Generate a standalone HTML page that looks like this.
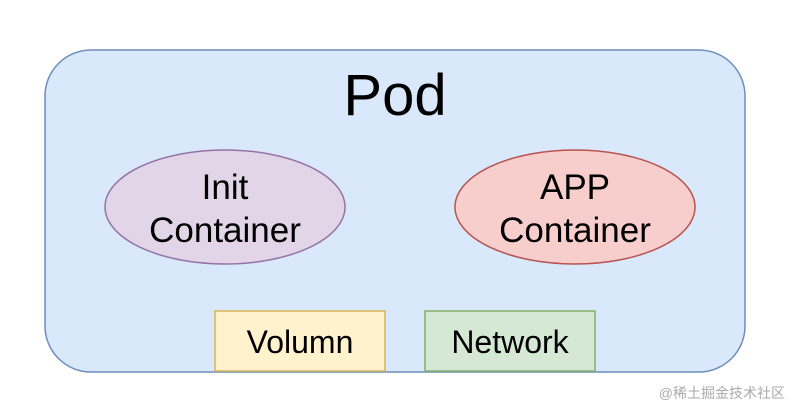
<!DOCTYPE html>
<html><head><meta charset="utf-8"><style>
html,body{margin:0;padding:0;background:#fff;}
</style></head><body>
<svg width="792" height="410" xmlns="http://www.w3.org/2000/svg" style="display:block">
<rect x="45" y="50" width="700" height="322" rx="46" ry="46" fill="#dae8fc" stroke="#6c8ebf" stroke-width="1.5"/>
<text x="395" y="115" text-anchor="middle" font-family="Liberation Sans, sans-serif" font-size="58" fill="#000">Pod</text>
<ellipse cx="225" cy="207" rx="120" ry="57" fill="#e1d5e7" stroke="#9673a6" stroke-width="1.5"/>
<text x="225" y="199" text-anchor="middle" font-family="Liberation Sans, sans-serif" font-size="35">Init</text>
<text x="225" y="242" text-anchor="middle" font-family="Liberation Sans, sans-serif" font-size="35">Container</text>
<ellipse cx="575" cy="207" rx="120" ry="57" fill="#f8cecc" stroke="#b85450" stroke-width="1.5"/>
<text x="575" y="199" text-anchor="middle" font-family="Liberation Sans, sans-serif" font-size="35">APP</text>
<text x="575" y="242" text-anchor="middle" font-family="Liberation Sans, sans-serif" font-size="35">Container</text>
<rect x="215" y="311" width="170" height="60" fill="#fff2cc" stroke="#d6b656" stroke-width="1.5"/>
<text x="300" y="353" text-anchor="middle" font-family="Liberation Sans, sans-serif" font-size="32">Volumn</text>
<rect x="425" y="311" width="170" height="60" fill="#d5e8d4" stroke="#82b366" stroke-width="1.5"/>
<text x="510" y="353" text-anchor="middle" font-family="Liberation Sans, sans-serif" font-size="32">Network</text>
<text x="785" y="398" text-anchor="end" font-family="Liberation Sans, 'Noto Sans CJK SC', sans-serif" font-size="14" fill="#aaa">@稀土掘金技术社区</text>
</svg>
</body></html>
